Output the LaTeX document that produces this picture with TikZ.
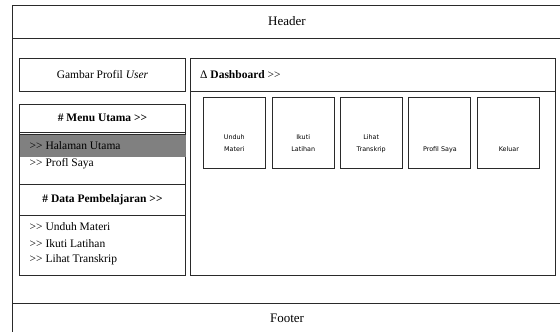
\documentclass[tikz,border=0pt]{standalone}
\usepackage{fontspec}
\setmainfont{Liberation Serif}
\newfontfamily\smallsans{DejaVu Sans}
\definecolor{linec}{HTML}{2A2A2A}
\definecolor{hlgrey}{HTML}{808080}
\newcommand{\gtgt}{>{}>}
\begin{document}
\begin{tikzpicture}[x=1pt,y=-1pt,
  frameline/.style={draw=linec,line width=1pt},
  panel/.style={draw=linec,line width=1pt,rectangle,inner sep=0pt},
  tile/.style={draw=linec,line width=1pt,rectangle,inner sep=0pt,minimum width=62pt,minimum height=71pt},
  tiletext/.style={font=\smallsans\fontsize{6.4}{12.4}\selectfont,align=center,inner sep=0pt,anchor=base},
  bigtext/.style={font=\fontsize{13}{15}\selectfont,inner sep=0pt},
  menutext/.style={font=\fontsize{11.5}{13}\selectfont,inner sep=0pt,anchor=west},
  headtext/.style={font=\fontsize{11.5}{13}\selectfont\bfseries,inner sep=0pt}
]
\useasboundingbox (0,0) rectangle (560,332);
% outer frame
\coordinate (tl) at (12.5,5.5);
\coordinate (tr) at (561,5.5);
\coordinate (bl) at (12.5,333);
\coordinate (hl) at (12.5,38.5);
\coordinate (hr) at (561,38.5);
\coordinate (fl) at (12.5,303.5);
\coordinate (fr) at (561,303.5);
\draw[frameline] (tr) -- (tl) -- (bl);
\draw[frameline] (hl) -- (hr);
\draw[frameline] (fl) -- (fr);
\node[bigtext] (header) at (287,21) {Header};
\node[bigtext] (footer) at (287,318) {Footer};

% left column
\node[panel,minimum width=166pt,minimum height=33pt] (profil) at (102.5,75) {};
\node[font=\fontsize{11.5}{13}\selectfont,inner sep=0pt] (profiltext) at (102.5,74.5) {Gambar Profil \textit{User}};

\node[panel,minimum width=166pt,minimum height=171.5pt] (menu) at (102.5,189.75) {};
\fill[hlgrey] (19.5,134.5) rectangle (185.5,157);
\draw[draw=linec,line width=0.8pt] (19.5,134.8) -- (185.5,134.8);
\draw[frameline] (19.5,132.5) -- (185.5,132.5);
\draw[frameline] (19.5,184.7) -- (185.5,184.7);
\draw[frameline] (19.5,215.5) -- (185.5,215.5);
\node[headtext] (menuhead) at (102.5,117.5) {\# Menu Utama \gtgt};
\node[menutext] (m1) at (29.5,146) {\gtgt\ Halaman Utama};
\node[menutext] (m2) at (29.5,163.5) {\gtgt\ Profl Saya};
\node[headtext] (datahead) at (102.5,199.5) {\# Data Pembelajaran \gtgt};
\node[menutext] (d1) at (29.5,227) {\gtgt\ Unduh Materi};
\node[menutext] (d2) at (29.5,243.5) {\gtgt\ Ikuti Latihan};
\node[menutext] (d3) at (29.5,260) {\gtgt\ Lihat Transkrip};

% dashboard
\node[panel,minimum width=365pt,minimum height=217pt] (dash) at (373.2,167) {};
\draw[frameline] (190.7,91.7) -- (555.7,91.7);
\node[font=\fontsize{11.5}{13}\selectfont,inner sep=0pt,anchor=west] (dashhead) at (200,74.5) {Δ\ \textbf{Dashboard} \gtgt};

\node[tile] (t1) at (234.3,132.8) {};
\node[tile] (t2) at (303.2,132.8) {};
\node[tile] (t3) at (371.2,132.8) {};
\node[tile] (t4) at (439.9,132.8) {};
\node[tile] (t5) at (508.9,132.8) {};
\node[tiletext] (t1t) at (234.3,151.5) {Unduh\\Materi};
\node[tiletext] (t2t) at (303.2,151.5) {Ikuti\\Latihan};
\node[tiletext] (t3t) at (371.2,151.5) {Lihat\\Transkrip};
\node[tiletext] (t4t) at (439.9,151.5) {Profil Saya};
\node[tiletext] (t5t) at (508.9,151.5) {Keluar};
\end{tikzpicture}
\end{document}
